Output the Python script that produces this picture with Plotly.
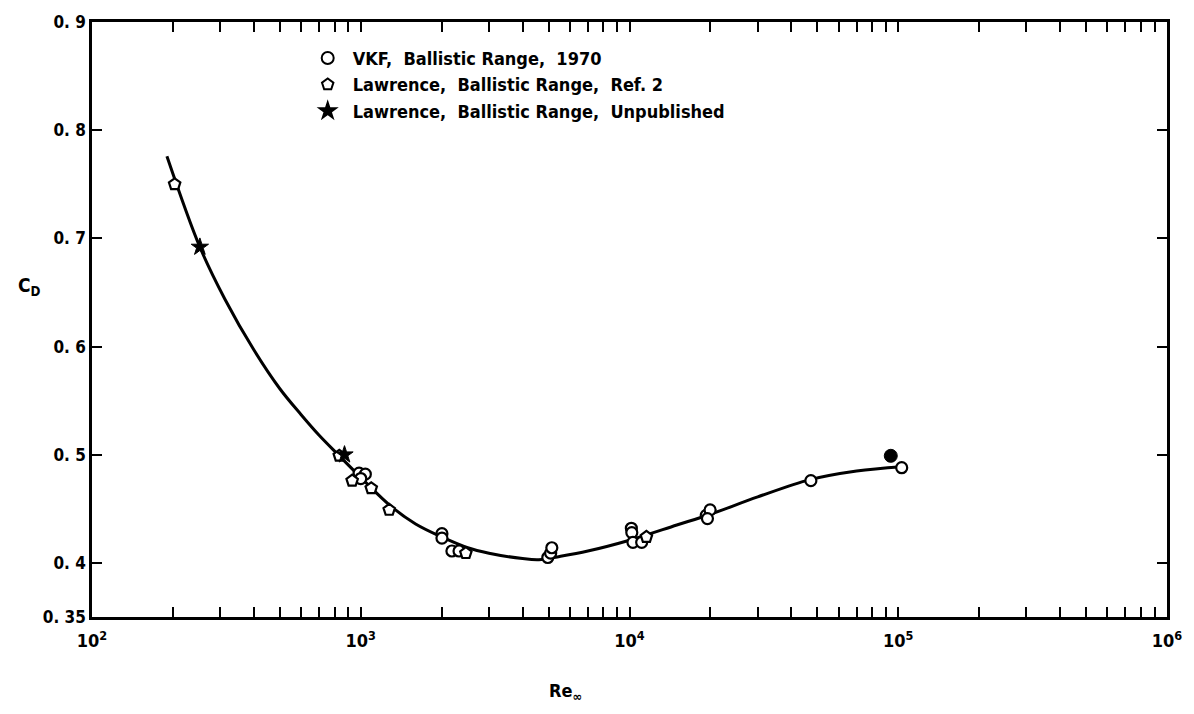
import plotly.graph_objects as go

# Faired curve through the data
curve_re = [190, 252, 312, 400, 500, 600, 700, 832, 1000, 1300, 1600, 2000, 2500, 3000, 4000, 4600, 5500, 7000, 10000, 15000, 20000, 30000, 47000, 70000, 103000]
curve_cd = [0.776, 0.692, 0.644, 0.597, 0.561, 0.537, 0.518, 0.499, 0.479, 0.452, 0.436, 0.424, 0.414, 0.409, 0.404, 0.403, 0.406, 0.411, 0.421, 0.435, 0.445, 0.461, 0.477, 0.485, 0.489]

# VKF, Ballistic Range, 1970 (open circles)
vkf_re = [986, 1040, 1000, 2005, 2005, 2184, 2321, 4966, 5090, 5140, 10160, 10200, 10300, 11100, 19300, 19950, 19500, 47300, 103000]
vkf_cd = [0.483, 0.482, 0.478, 0.427, 0.423, 0.411, 0.411, 0.405, 0.409, 0.414, 0.432, 0.428, 0.419, 0.419, 0.444, 0.449, 0.441, 0.476, 0.488]

# Lawrence, Ballistic Range, Ref. 2 (open pentagons)
ref2_re = [203, 832, 929, 1094, 1276, 2461, 11560]
ref2_cd = [0.750, 0.499, 0.476, 0.469, 0.449, 0.409, 0.424]

# Lawrence, Ballistic Range, Unpublished (filled)
unp_re = [252, 870, 93800]
unp_cd = [0.692, 0.500, 0.499]
unp_sym = ["star", "star", "circle"]

FONT = "DejaVu Sans Condensed, Liberation Sans Narrow, Arial Narrow, sans-serif"

fig = go.Figure()
fig.add_trace(go.Scatter(x=curve_re, y=curve_cd, mode="lines",
                         line=dict(color="black", width=3, shape="spline", smoothing=1.0),
                         showlegend=False, hoverinfo="skip"))
fig.add_trace(go.Scatter(x=vkf_re, y=vkf_cd, mode="markers", name="VKF,  Ballistic Range,  1970",
                         marker=dict(symbol="circle", size=11, color="white", line=dict(color="black", width=2.2))))
fig.add_trace(go.Scatter(x=ref2_re, y=ref2_cd, mode="markers", name="Lawrence,  Ballistic Range,  Ref. 2",
                         marker=dict(symbol="pentagon", size=12, color="white", line=dict(color="black", width=2.2))))
fig.add_trace(go.Scatter(x=unp_re, y=unp_cd, mode="markers", name="Lawrence,  Ballistic Range,  Unpublished",
                         marker=dict(symbol=unp_sym, size=13, color="black", line=dict(color="black", width=1))))

xticks = [100, 1000, 10000, 100000, 1000000]
xticktext = ["10<sup>2</sup>", "10<sup>3</sup>", "10<sup>4</sup>", "10<sup>5</sup>", "10<sup>6</sup>"]
yticks = [0.35, 0.4, 0.5, 0.6, 0.7, 0.8, 0.9]
yticktext = ["0. 35", "0. 4", "0. 5", "0. 6", "0. 7", "0. 8", "0. 9"]

fig.update_layout(
    width=1194, height=714,
    margin=dict(l=92, r=26, t=18, b=97),
    paper_bgcolor="white", plot_bgcolor="white",
    font=dict(family=FONT, size=17, color="black", weight="bold"),
    showlegend=True,
    legend=dict(x=0.196, y=0.97, xanchor="left", yanchor="top", bgcolor="rgba(0,0,0,0)",
                font=dict(family=FONT, size=18, color="black", weight="bold"),
                tracegroupgap=0, itemsizing="constant", itemwidth=40),
    xaxis=dict(type="log", range=[2, 6], tickmode="array", tickvals=xticks, ticktext=xticktext,
               ticks="inside", ticklen=10, tickwidth=2, tickcolor="black",
               showline=True, linecolor="black", linewidth=2.5, mirror="allticks",
               showgrid=False, zeroline=False, ticklabelstandoff=6,
               tickfont=dict(size=18, weight="bold"),
               minor=dict(ticks="inside", ticklen=10, tickwidth=1.5, tickcolor="black", showgrid=False,
                          tickvals=[m * 10 ** e for e in range(2, 6) for m in range(2, 10)])),
    yaxis=dict(range=[0.35, 0.9], tickmode="array", tickvals=yticks, ticktext=yticktext,
               ticks="inside", ticklen=10, tickwidth=2, tickcolor="black",
               showline=True, linecolor="black", linewidth=2.5, mirror="allticks",
               showgrid=False, zeroline=False, tickfont=dict(size=17, weight="bold")),
    annotations=[
        dict(text="C<sub>D</sub>", x=-0.058, y=0.555, xref="paper", yref="paper", showarrow=False,
             xanchor="center", yanchor="middle", font=dict(size=19, weight="bold")),
        dict(text="Re<sub>\u221e</sub>", x=0.44, y=-0.102, xref="paper", yref="paper", showarrow=False,
             font=dict(size=18, weight="bold"), xanchor="center", yanchor="top"),
    ],
)

fig.write_html("out.html")
